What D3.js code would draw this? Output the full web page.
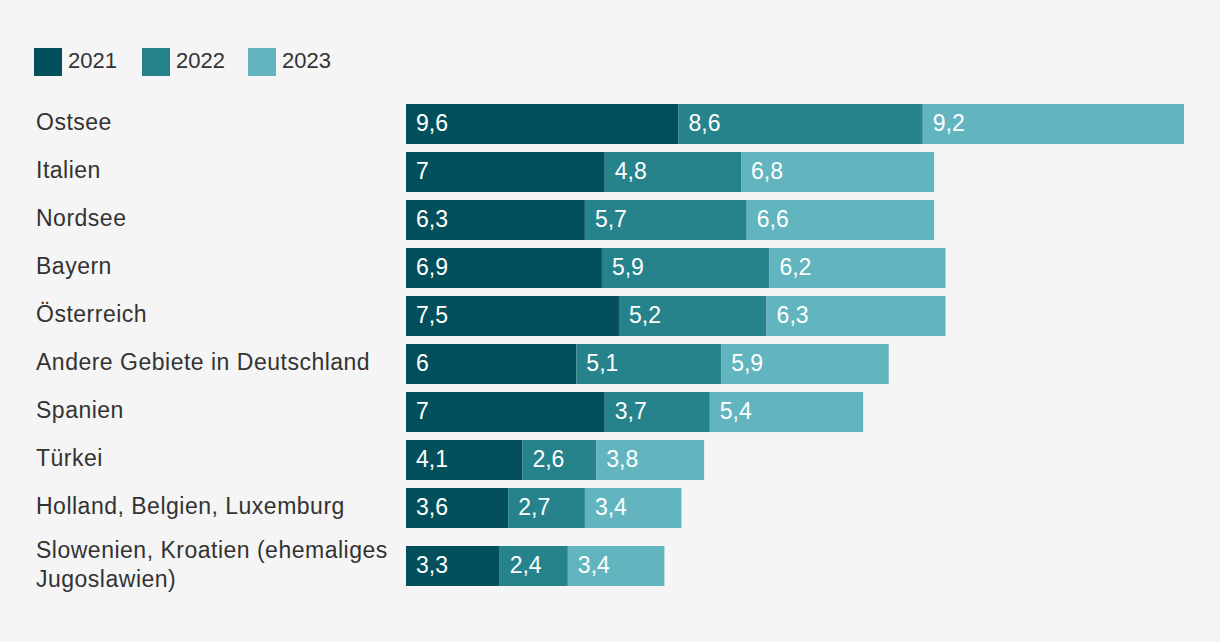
<!DOCTYPE html>
<html>
<head>
<meta charset="utf-8">
<script src="https://cdn.jsdelivr.net/npm/d3@7/dist/d3.min.js"></script>
<style>
html,body{margin:0;padding:0;background:#f5f5f5;}
svg{display:block;}
text{font-family:"Liberation Sans",Arial,Helvetica,sans-serif;}
</style>
</head>
<body>
<svg id="chart" width="1220" height="642"></svg>
<script>
const categories = [
  ["Ostsee"],
  ["Italien"],
  ["Nordsee"],
  ["Bayern"],
  ["Österreich"],
  ["Andere Gebiete in Deutschland"],
  ["Spanien"],
  ["Türkei"],
  ["Holland, Belgien, Luxemburg"],
  ["Slowenien, Kroatien (ehemaliges", "Jugoslawien)"]
];
const seriesNames = ["2021", "2022", "2023"];
const v2021 = [9.6, 7, 6.3, 6.9, 7.5, 6, 7, 4.1, 3.6, 3.3];
const v2022 = [8.6, 4.8, 5.7, 5.9, 5.2, 5.1, 3.7, 2.6, 2.7, 2.4];
const v2023 = [9.2, 6.8, 6.6, 6.2, 6.3, 5.9, 5.4, 3.8, 3.4, 3.4];
const colors = ["#03505c", "#26838c", "#62b5bf"];

const series = [v2021, v2022, v2023];
const rows = categories.map((lines, i) => {
  const r = {lines};
  seriesNames.forEach((s, k) => r[s] = series[k][i]);
  return r;
});

const svg = d3.select("#chart");
const lineH = 29;
const barH = 40;

// row centers: single-line rows are bar height, wrapped rows grow with text
const centers = [];
{
  let yy = 104;
  rows.forEach(r => {
    const h = r.lines.length > 1 ? r.lines.length * lineH : barH;
    const extra = r.lines.length > 1 ? 1 : 0;
    centers.push(yy + h / 2 + extra);
    yy += h + 8;
  });
}

const stacked = d3.stack().keys(seriesNames)(rows);
const maxTotal = d3.max(rows, r => d3.sum(seriesNames, s => r[s]));
const x = d3.scaleLinear().domain([0, maxTotal]).range([406, 1184]);

const fmt = v => String(v).replace(".", ",");

// category labels
rows.forEach((r, i) => {
  const n = r.lines.length;
  const t = svg.append("text")
    .attr("x", 36)
    .attr("font-size", 23)
    .attr("letter-spacing", "0.5px")
    .attr("fill", "#333");
  r.lines.forEach((ln, j) => {
    t.append("tspan")
      .attr("x", 36)
      .attr("y", centers[i] - (n - 1) * lineH / 2 + j * lineH - 2)
      .attr("dominant-baseline", "central")
      .text(ln);
  });
});

// bars
stacked.forEach((layer, k) => {
  const g = svg.append("g");
  layer.forEach((d, i) => {
    g.append("rect")
      .attr("x", x(d[0]))
      .attr("y", centers[i] - barH / 2)
      .attr("width", x(d[1]) - x(d[0]))
      .attr("height", barH)
      .attr("fill", colors[k]);
    g.append("text")
      .attr("x", x(d[0]) + 10)
      .attr("y", centers[i] - 1.5)
      .attr("dominant-baseline", "central")
      .attr("font-size", 23)
      .attr("fill", "#fff")
      .text(fmt(rows[i][seriesNames[k]]));
  });
});

// legend
const legX = [34, 142, 248];
seriesNames.forEach((s, k) => {
  svg.append("rect").attr("x", legX[k]).attr("y", 48).attr("width", 28).attr("height", 28).attr("fill", colors[k]);
  svg.append("text").attr("x", legX[k] + 34).attr("y", 60.5)
    .attr("dominant-baseline", "central")
    .attr("font-size", 22).attr("fill", "#333").text(s);
});
</script>
</body>
</html>
